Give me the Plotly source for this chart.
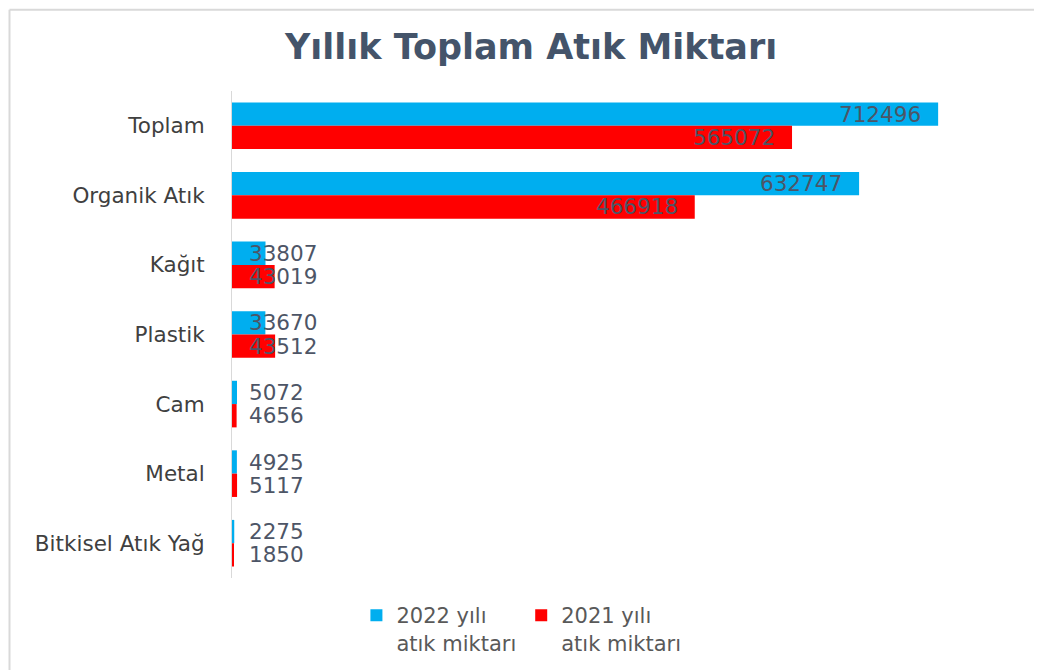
import plotly.graph_objects as go

categories = ["Toplam", "Organik Atık", "Kağıt", "Plastik", "Cam", "Metal", "Bitkisel Atık Yağ"]
values_2022 = [712496, 632747, 33807, 33670, 5072, 4925, 2275]
values_2021 = [565072, 466918, 43019, 43512, 4656, 5117, 1850]
series_names = ["2022 yılı<br>atık miktarı", "2021 yılı<br>atık miktarı"]
title_text = "Yıllık Toplam Atık Miktarı"

BIG = 100000
FONT = "DejaVu Sans"
label_color = "#4d5566"

fig = go.Figure()
for name, vals, color in [(series_names[0], values_2022, "#00AEEF"),
                          (series_names[1], values_2021, "#FF0000")]:
    fig.add_trace(go.Bar(
        y=categories, x=vals, orientation="h", name=name,
        marker=dict(color=color, line=dict(width=0)),
        hoverinfo="x+y",
    ))

annotations = []
for vals, off in [(values_2022, -0.167), (values_2021, 0.167)]:
    for i, v in enumerate(vals):
        if v >= BIG:
            annotations.append(dict(
                x=v, y=i + off, xref="x", yref="y", text=f"{v}",
                showarrow=False, xanchor="right", yanchor="middle", xshift=-15,
                font=dict(family=FONT, size=21.5, color=label_color),
            ))
        else:
            annotations.append(dict(
                x=0, y=i + off, xref="x", yref="y", text=f"{v}",
                showarrow=False, xanchor="left", yanchor="middle", xshift=15,
                font=dict(family=FONT, size=21.5, color=label_color),
            ))

fig.update_layout(
    width=1042, height=670,
    paper_bgcolor="white", plot_bgcolor="white",
    margin=dict(l=224, r=40, t=83, b=100, autoexpand=False),
    title=dict(text=f"<b>{title_text}</b>", x=0.502, xanchor="center", y=0.942, yanchor="middle",
               font=dict(family=FONT, size=35, color="#44546A")),
    barmode="group", bargap=0.33, bargroupgap=0,
    showlegend=True,
    legend=dict(orientation="h", x=0.372, xanchor="center", y=-0.035, yanchor="top",
                font=dict(family=FONT, size=21, color="#595959"),
                itemwidth=30, traceorder="normal", valign="top"),
    xaxis=dict(range=[0, 785000], showgrid=False, showticklabels=False, zeroline=False,
               showline=False, fixedrange=True),
    yaxis=dict(autorange="reversed", showgrid=False, showline=True, linecolor="#d9d9d9",
               linewidth=1, ticks="", ticklabelstandoff=22, automargin=False,
               tickfont=dict(family=FONT, size=21.5, color="#404040")),
    annotations=annotations,
    shapes=[
        dict(type="line", xref="paper", yref="paper", x0=-0.286, x1=1.06, y0=1.167, y1=1.167,
             line=dict(color="#d9d9d9", width=2)),
        dict(type="line", xref="paper", yref="paper", x0=-0.286, x1=-0.286, y0=1.167, y1=-0.21,
             line=dict(color="#d9d9d9", width=2)),
    ],
)

fig.write_html("out.html")
